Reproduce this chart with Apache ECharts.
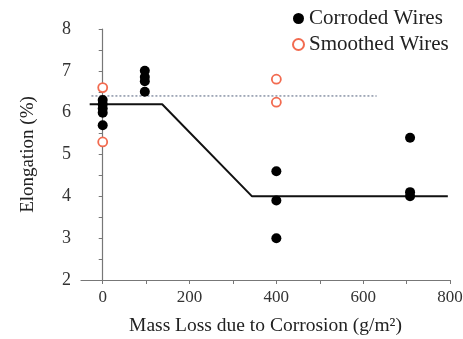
<!DOCTYPE html>
<html>
<head>
<meta charset="utf-8">
<script src="https://cdn.jsdelivr.net/npm/echarts@6/dist/echarts.min.js"></script>
<style>html,body{margin:0;padding:0;background:#fff;}#c{width:463px;height:339px;}</style>
</head>
<body>
<div id="c"></div>
<script>
// Data
const corrodedX = [0, 0, 0, 0, 0, 97, 97, 97, 97, 400, 400, 400, 708, 708, 708];
const corrodedY = [6.3, 6.2, 6.1, 6.0, 5.7, 7.0, 6.85, 6.75, 6.5, 4.6, 3.9, 3.0, 5.4, 4.1, 4.0];
const smoothedX = [0, 0, 400, 400];
const smoothedY = [6.6, 5.3, 6.8, 6.25];
const fitX = [-30, 137, 344, 795];
const fitY = [6.2, 6.2, 4.0, 4.0];
const smoothFitX = [-26, 631];
const smoothFitY = [6.4, 6.4];
const xTickValues = [0, 100, 200, 300, 400, 500, 600, 700, 800];
const xLabelValues = [0, 200, 400, 600, 800];
const yTickValues = [2, 2.5, 3, 3.5, 4, 4.5, 5, 5.5, 6, 6.5, 7, 7.5, 8];
const yLabelValues = [2, 3, 4, 5, 6, 7, 8];

const zip = (xs, ys) => xs.map((x, i) => [x, ys[i]]);
const font = '"Liberation Serif", "DejaVu Serif", serif';
const chart = echarts.init(document.getElementById('c'));
chart.setOption({
  backgroundColor: '#fff',
  animation: false,
  grid: { left: 81, right: 13, top: 29, bottom: 59, containLabel: false, outerBoundsMode: 'none' },
  legend: {
    orient: 'vertical', left: 287, top: 3, itemGap: 5,
    itemWidth: 11, itemHeight: 11,
    textStyle: { fontFamily: font, fontSize: 21, color: '#222' },
    data: [{ name: 'Corroded Wires', icon: 'circle' }, { name: 'Smoothed Wires', icon: 'circle' }]
  },
  xAxis: {
    type: 'value', min: -50, max: 800,
    name: 'Mass Loss due to Corrosion (g/m\u00B2)', nameLocation: 'middle', nameGap: 36,
    nameTextStyle: { fontFamily: font, fontSize: 19.5, color: '#222' },
    axisLine: { lineStyle: { color: '#777', width: 1.2 } },
    axisTick: { customValues: xTickValues, length: 4, lineStyle: { color: '#777' } },
    axisLabel: { customValues: xLabelValues, fontFamily: font, fontSize: 17, color: '#333', margin: 9 },
    splitLine: { show: false }
  },
  yAxis: {
    type: 'value', min: 2, max: 8,
    name: 'Elongation (%)', nameLocation: 'middle', nameGap: 43,
    nameTextStyle: { fontFamily: font, fontSize: 19, color: '#222' },
    axisLine: { show: true, lineStyle: { color: '#777', width: 1.2 } },
    axisTick: { show: true, customValues: yTickValues, length: 4, lineStyle: { color: '#777' } },
    axisLabel: { customValues: yLabelValues, fontFamily: font, fontSize: 18, color: '#333', margin: 10 },
    splitLine: { show: false }
  },
  series: [
    {
      name: 'fit', type: 'line', data: zip(fitX, fitY), symbol: 'none',
      lineStyle: { color: '#111', width: 2 }, z: 1
    },
    {
      name: 'smoothfit', type: 'line', data: zip(smoothFitX, smoothFitY), symbol: 'none',
      lineStyle: { color: '#8a94a6', width: 1.5, type: [2, 2] }, z: 1
    },
    {
      name: 'Corroded Wires', type: 'scatter', data: zip(corrodedX, corrodedY),
      symbol: 'circle', symbolSize: 10, itemStyle: { color: '#000', opacity: 1 }, z: 3
    },
    {
      name: 'Smoothed Wires', type: 'scatter', data: zip(smoothedX, smoothedY),
      symbol: 'circle', symbolSize: 9,
      itemStyle: { color: '#fff', borderColor: '#f26b50', borderWidth: 1.8, opacity: 1 }, z: 3
    }
  ]
});
</script>
</body>
</html>
